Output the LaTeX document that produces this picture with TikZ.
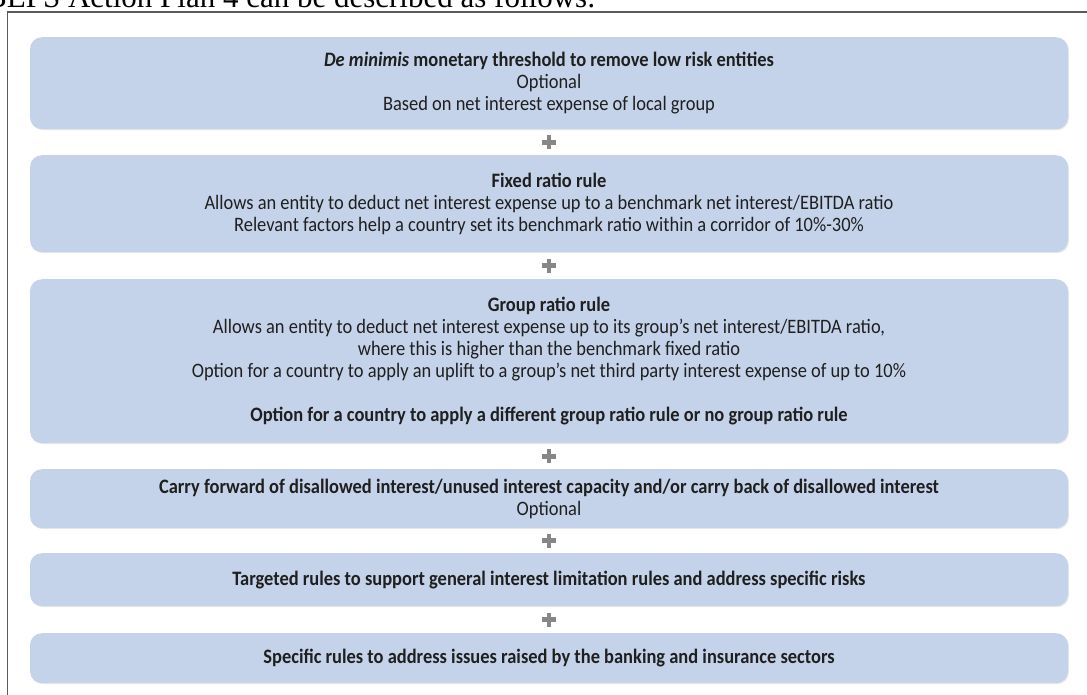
\documentclass[tikz,border=0pt]{standalone}
\usepackage{fontspec}
\setmainfont{Carlito}[FakeStretch=0.9]
\newfontfamily\titlefont{Liberation Serif}
\usetikzlibrary{calc,shadows}
\definecolor{boxblue}{RGB}{197,211,234}
\definecolor{plusgray}{RGB}{135,135,135}
\definecolor{framegray}{RGB}{90,90,90}
\tikzset{
  rulebox/.style={fill=boxblue, rounded corners=12pt, minimum width=1038pt,
    anchor=north, align=center, inner sep=0pt, text=black!88,
    drop shadow={opacity=0.18, shadow xshift=1pt, shadow yshift=-1pt},
    font=\fontsize{20.5}{22}\selectfont},
}
\begin{document}
\begin{tikzpicture}[x=1pt,y=-1pt]
      \clip (0,0) rectangle (1087,695);
      % heading line, cut off by the top edge
      \node[anchor=base west, inner sep=0pt, font=\titlefont\fontsize{31}{31}\selectfont] (title) at (-14,7.5)
        {BEPS Action Plan 4 can be described as follows:};
      \draw[framegray, line width=1.5pt] (7.5,710) -- (7.5,12) -- (1100,12);
      \node[rulebox, minimum height=92pt] (deminimis) at (549,37)
        {\textbf{\textit{De minimis}} \textbf{monetary threshold to remove low risk entities}\\
         Optional\\
         Based on net interest expense of local group};
      \node[rulebox, minimum height=97pt] (fixed) at (549,155)
        {\textbf{Fixed ratio rule}\\
         Allows an entity to deduct net interest expense up to a benchmark net interest/EBITDA ratio\\
         Relevant factors help a country set its benchmark ratio within a corridor of 10\%-30\%};
      \node[rulebox, minimum height=164pt] (group) at (549,279)
        {\textbf{Group ratio rule}\\
         Allows an entity to deduct net interest expense up to its group’s net interest/EBITDA ratio,\\
         where this is higher than the benchmark fixed ratio\\
         Option for a country to apply an uplift to a group’s net third party interest expense of up to 10\%\\[22pt]
         \textbf{Option for a country to apply a different group ratio rule or no group ratio rule}};
      \node[rulebox, minimum height=59pt] (carry) at (549,469)
        {\textbf{Carry forward of disallowed interest/unused interest capacity and/or carry back of disallowed interest}\\
         Optional};
      \node[rulebox, minimum height=53pt] (targeted) at (549,553)
        {\textbf{Targeted rules to support general interest limitation rules and address specific risks}};
      \node[rulebox, minimum height=50pt] (banking) at (549,633)
        {\textbf{Specific rules to address issues raised by the banking and insurance sectors}};
      % plus signs between the boxes
      \foreach \a/\b in {deminimis/fixed,fixed/group,group/carry,carry/targeted,targeted/banking} {
          \coordinate (m) at ($(\a.south)!0.5!(\b.north)$);
          \fill[plusgray] ($(m)+(-7,-2.4)$) rectangle ($(m)+(7,2.4)$);
          \fill[plusgray] ($(m)+(-2.4,-7)$) rectangle ($(m)+(2.4,7)$);
        }
\end{tikzpicture}
\end{document}
